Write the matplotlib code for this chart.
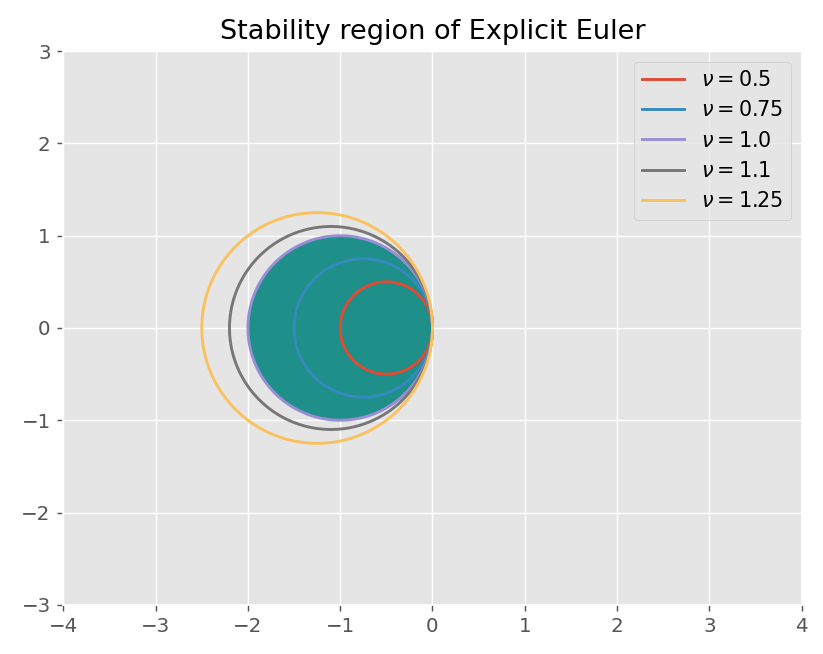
import numpy as np
import matplotlib
matplotlib.use("Agg")
import matplotlib.pyplot as plt

plt.style.use("ggplot")

# Courant-like parameters of the plotted circles |1 + z/nu| = 1
NUS = [0.5, 0.75, 1.0, 1.1, 1.25]
LABELS = [r"$\nu = 0.5$", r"$\nu = 0.75$", r"$\nu = 1.0$", r"$\nu = 1.1$", r"$\nu = 1.25$"]
FILL_NU = 1.0
X_TICKS = [-4, -3, -2, -1, 0, 1, 2, 3, 4]
Y_TICKS = [-3, -2, -1, 0, 1, 2, 3]

fig = plt.figure(figsize=(823 / 130, 654 / 130), dpi=130)
ax = fig.add_axes([0.077, 0.073, 0.897, 0.851])

theta = np.linspace(0, 2 * np.pi, 400)
unit = np.exp(1j * theta)

# stable region of explicit Euler (|1+z| <= 1)
reg = FILL_NU * (unit - 1)
ax.fill(reg.real, reg.imag, color="#1f8f89", zorder=1)

for nu, lab in zip(NUS, LABELS):
    c = nu * (unit - 1)
    ax.plot(c.real, c.imag, lw=1.6, label=lab, zorder=2)

ax.set_xlim(-4, 4)
ax.set_ylim(-3, 3)
ax.set_xticks(X_TICKS)
ax.set_yticks(Y_TICKS)
ax.set_aspect("equal")
ax.tick_params(labelsize=11)
ax.set_title("Stability region of Explicit Euler", fontsize=15, pad=7)
ax.legend(loc="upper right", fontsize=11.5)

fig.savefig("out.png", dpi=130)
